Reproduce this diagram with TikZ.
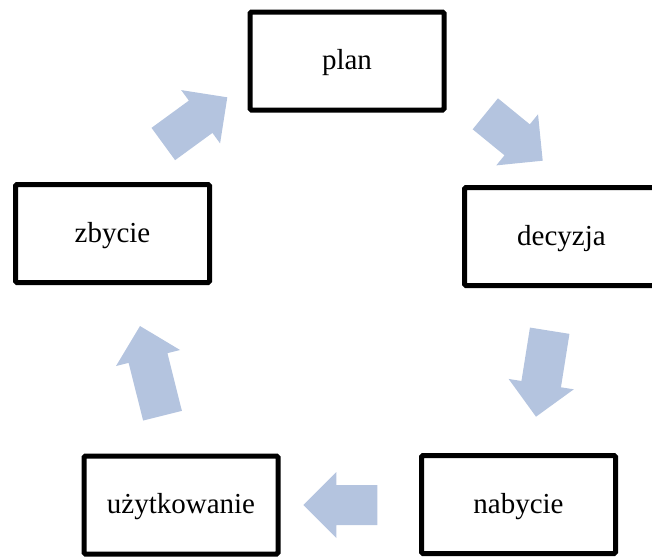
\documentclass[tikz,border=0pt]{standalone}
\usepackage{fontspec}
\setmainfont{Liberation Serif}
\usetikzlibrary{calc}
\definecolor{arrowblue}{RGB}{180,196,223}
\tikzset{
  stagebox/.style={draw=black, line width=5pt, rounded corners=1.5pt, fill=white,
    minimum width=194pt, minimum height=98pt, inner sep=0pt,
    text height=21pt, text depth=4pt,
    font=\fontsize{29}{34}\selectfont},
  arrowfill/.style={fill=arrowblue}
}
\newcommand\blkarrow[2]{%
  \coordinate (arhd) at ($(#2)!33pt!(#1)$);
  \fill[arrowfill] ($(#1)!20pt!90:(#2)$) -- ($(arhd)!20pt!90:(#2)$) -- ($(arhd)!33pt!90:(#2)$) -- (#2)
    -- ($(arhd)!33pt!-90:(#2)$) -- ($(arhd)!20pt!-90:(#2)$) -- ($(#1)!20pt!-90:(#2)$) -- cycle;}
\begin{document}
\begin{tikzpicture}[x=1pt,y=-1pt]
\useasboundingbox (0,0) rectangle (652,558);
\clip (0,0) rectangle (652,558);
\node[stagebox] (plan) at (347,61) {plan};
\node[stagebox] (decyzja) at (561.5,236.5) {decyzja};
\node[stagebox] (nabycie) at (518.5,504.5) {nabycie};
\node[stagebox] (uzyt) at (181,505) {użytkowanie};
\node[stagebox] (zbycie) at (112.5,233.5) {zbycie};
\coordinate (a1t) at (163.3,144);   \coordinate (a1p) at (227.3,97.3);
\coordinate (a2t) at (485.3,113.8); \coordinate (a2p) at (542.7,160.7);
\coordinate (a3t) at (549.7,330.7); \coordinate (a3p) at (536,416.7);
\coordinate (a4t) at (377.3,505);   \coordinate (a4p) at (303.3,505);
\coordinate (a5t) at (162.5,415.7); \coordinate (a5p) at (140,326);
\blkarrow{a1t}{a1p}
\blkarrow{a2t}{a2p}
\blkarrow{a3t}{a3p}
\blkarrow{a4t}{a4p}
\blkarrow{a5t}{a5p}
\end{tikzpicture}
\end{document}
